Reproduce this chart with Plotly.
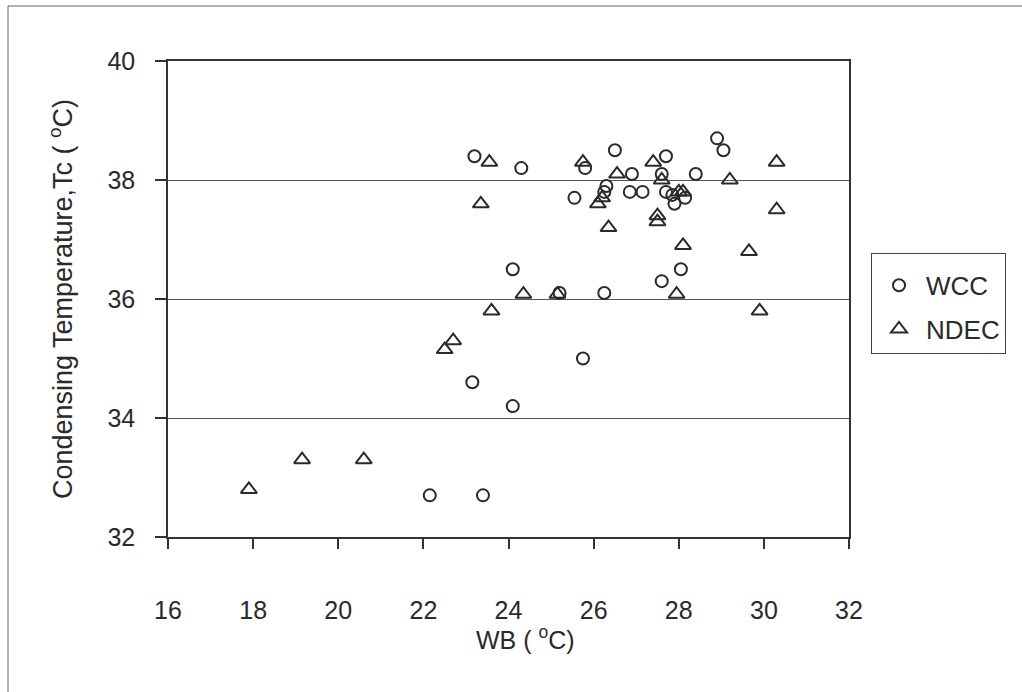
import plotly.graph_objects as go

# WCC series (open circles)
wcc_wb = [23.2, 24.3, 25.55, 25.8, 26.5, 26.9, 26.3, 26.25, 26.85, 27.15,
          27.7, 27.6, 27.7, 27.85, 27.9, 28.15, 28.4, 28.9, 29.05, 24.1,
          28.05, 27.6, 25.2, 26.25, 25.75, 23.15, 24.1, 22.15, 23.4]
wcc_tc = [38.4, 38.2, 37.7, 38.2, 38.5, 38.1, 37.9, 37.8, 37.8, 37.8,
          38.4, 38.1, 37.8, 37.75, 37.6, 37.7, 38.1, 38.7, 38.5, 36.5,
          36.5, 36.3, 36.1, 36.1, 35.0, 34.6, 34.2, 32.7, 32.7]

# NDEC series (open triangles)
ndec_wb = [17.9, 19.15, 20.6, 22.5, 22.7, 23.6, 23.35, 23.55, 24.35, 25.15,
           25.75, 26.1, 26.2, 26.35, 26.55, 27.4, 27.5, 27.5, 27.6, 27.95,
           28.0, 28.1, 28.1, 29.2, 29.65, 29.9, 30.3, 30.3]
ndec_tc = [32.8, 33.3, 33.3, 35.15, 35.3, 35.8, 37.6, 38.3, 36.08, 36.08,
           38.3, 37.6, 37.7, 37.2, 38.1, 38.3, 37.4, 37.3, 38.0, 36.08,
           37.8, 37.8, 36.9, 38.0, 36.8, 35.8, 38.3, 37.5]

x_ticks = [16, 18, 20, 22, 24, 26, 28, 30, 32]
y_ticks = [32, 34, 36, 38, 40]

FONT = "Arial, Liberation Sans, sans-serif"
INK = "#2a2a2a"

fig = go.Figure()
fig.add_trace(go.Scatter(
    x=wcc_wb, y=wcc_tc, mode="markers", name="WCC", legendgroup="a",
    marker=dict(symbol="circle-open", size=12, color=INK, line=dict(width=2, color=INK)),
))
fig.add_trace(go.Scatter(
    x=ndec_wb, y=ndec_tc, mode="markers", name="NDEC", legendgroup="b",
    marker=dict(symbol="triangle-up-open", size=14, color=INK, line=dict(width=2, color=INK)),
))

L, R, T, B = 168, 173, 61, 155
W, H = 1022, 692
pw, ph = W - L - R, H - T - B

fig.update_layout(
    width=W, height=H,
    margin=dict(l=L, r=R, t=T, b=B, pad=0),
    paper_bgcolor="white", plot_bgcolor="white",
    font=dict(family=FONT, size=25, color=INK),
    showlegend=True,
    legend=dict(
        x=(871 - L) / pw, xanchor="left",
        y=(H - B - 253) / ph, yanchor="top",
        bordercolor="#444", borderwidth=1, bgcolor="white",
        font=dict(family=FONT, size=26, color=INK),
        traceorder="grouped", tracegroupgap=7,
        entrywidth=140, itemwidth=44,
        title=dict(text="&nbsp;", font=dict(size=6)),
    ),
    xaxis=dict(
        range=[16, 32], tickvals=x_ticks, ticktext=[str(v) for v in x_ticks],
        showgrid=False, zeroline=False,
        showline=True, linecolor="#333", linewidth=1.5, mirror=True,
        ticks="outside", ticklen=10, tickcolor="#333", tickwidth=1.5,
        ticklabelstandoff=40, tickfont=dict(size=25),
        automargin=False,
    ),
    yaxis=dict(
        range=[32, 40], tickvals=y_ticks, ticktext=[str(v) for v in y_ticks],
        showgrid=True, gridcolor="#555", gridwidth=1,
        zeroline=False,
        showline=True, linecolor="#333", linewidth=1.5, mirror=True,
        ticks="outside", ticklen=11, tickcolor="#333", tickwidth=1.5,
        ticklabelstandoff=15, tickfont=dict(size=25),
        title=dict(text="Condensing Temperature,Tc ( <sup>o</sup>C)", font=dict(size=27), standoff=27),
        automargin=False,
    ),
    annotations=[dict(
        text="WB ( <sup>o</sup>C)", xref="paper", yref="paper",
        x=(525 - L) / pw, y=(H - B - 638) / ph, xanchor="center", yanchor="middle",
        showarrow=False, font=dict(family=FONT, size=25, color=INK),
    )],
)

# outer frame of the figure (scanned page border)
fig.add_shape(
    type="rect", xref="paper", yref="paper",
    x0=(8 - L) / pw, x1=(1040 - L) / pw,
    y0=(H - B - 710) / ph, y1=(H - B - 6) / ph,
    line=dict(color="#666", width=1), fillcolor="rgba(0,0,0,0)", layer="below",
)

fig.write_html("out.html")
